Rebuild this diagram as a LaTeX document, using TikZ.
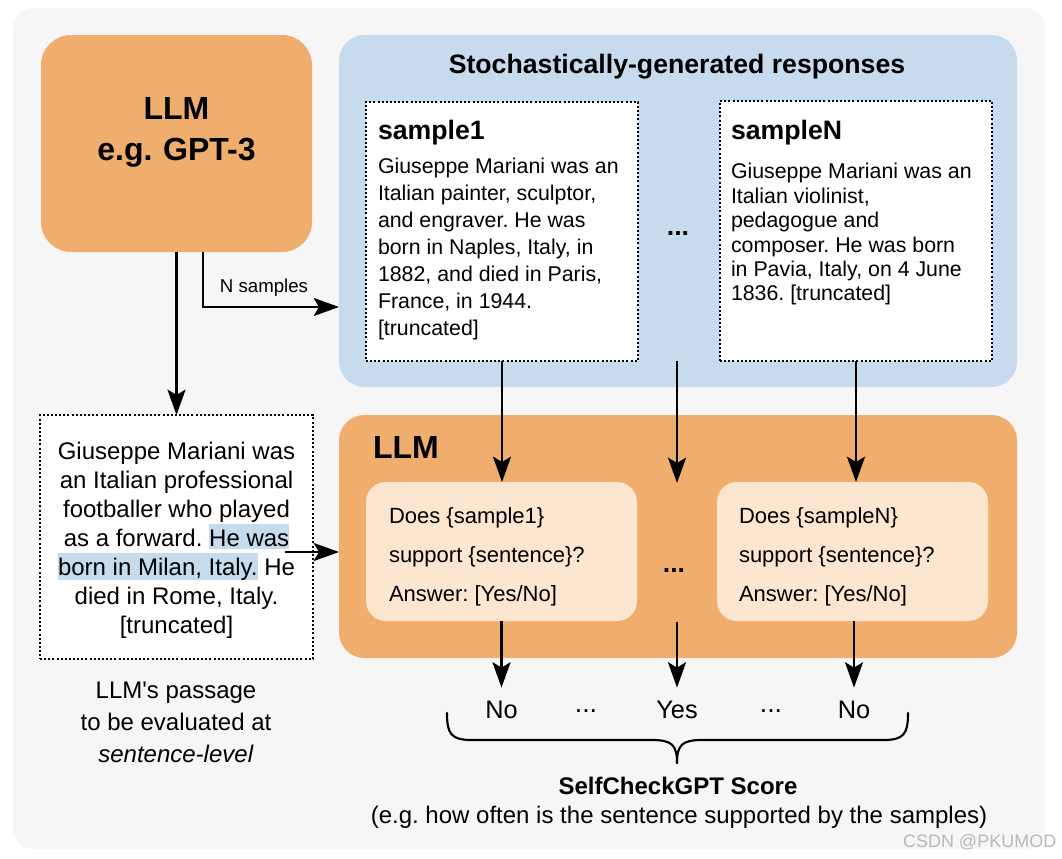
\documentclass[tikz,border=0pt]{standalone}
\usepackage{fontspec}
\setmainfont{Liberation Sans}
\usetikzlibrary{arrows.meta,fit}
\definecolor{bggray}{RGB}{246,246,246}
\definecolor{llmorange}{RGB}{240,174,110}
\definecolor{qorange}{RGB}{252,230,207}
\definecolor{respblue}{RGB}{198,220,238}
\definecolor{wmgray}{RGB}{185,185,185}
\newcommand{\hlbox}[1]{{\setlength{\fboxsep}{0pt}\colorbox{respblue}{\rule[-0.12em]{0pt}{1.05em}#1}}}
\frenchspacing
\begin{document}
\begin{tikzpicture}[x=0.75pt,y=-0.75pt,
  every node/.style={inner sep=0pt, outer sep=0pt},
  bigorange/.style={fill=llmorange, rounded corners=22.5pt},
  panel/.style={rounded corners=19pt},
  dotbox/.style={draw=black, fill=white, line width=1.9pt, dash pattern=on 1.5pt off 1.6pt},
  qbox/.style={fill=qorange, rounded corners=15pt},
  arr/.style={line width=1.8pt, -{Stealth[length=19pt,width=13.5pt,inset=4pt]}},
  samplehead/.style={font=\bfseries\fontsize{20}{24}\selectfont, anchor=base west},
  qtext/.style={font=\fontsize{16.5}{29.25}\selectfont, align=left, anchor=north west},
  answer/.style={font=\fontsize{19}{23}\selectfont, anchor=base, inner ysep=9.75pt},
  dots/.style={font=\fontsize{20}{24}\selectfont, anchor=base}
]
\useasboundingbox (0,0) rectangle (1062,858);
\fill[bggray, rounded corners=15pt] (13,8) rectangle (1045,849);

% top LLM
\node[fit={(41,35) (312,252)}, bigorange, align=center,
      font=\bfseries\fontsize{24}{30.75}\selectfont] (llm) {LLM\\e.g. GPT-3};

% responses panel
\node[fit={(339,35) (1017,387)}, panel, fill=respblue] (resp) {};
\node[font=\bfseries\fontsize{20}{24}\selectfont] (resptitle) at (677,67) {Stochastically-generated responses};
\node[fit={(366,102) (638,361)}, dotbox] (s1) {};
\node[fit={(720,101) (992,361)}, dotbox] (sN) {};
\node[samplehead] (s1head) at (378,139) {sample1};
\node[samplehead] (sNhead) at (731,139) {sampleN};
\node[font=\fontsize{16}{20.2}\selectfont, align=left, anchor=north west] (s1body) at (378,158.5)
  {Giuseppe Mariani was an\\Italian painter, sculptor,\\and engraver. He was\\born in Naples, Italy, in\\1882, and died in Paris,\\France, in 1944.\\{[truncated]}};
\node[font=\fontsize{16}{18.3}\selectfont, align=left, anchor=north west] (sNbody) at (731,163.5)
  {Giuseppe Mariani was an\\Italian violinist,\\pedagogue and\\composer. He was born\\in Pavia, Italy, on 4 June\\1836. [truncated]};
\node[dots, font=\bfseries\fontsize{20}{24}\selectfont] (dtop) at (678,235) {...};

% passage
\node[fit={(40,415) (313,659)}, dotbox] (passage) {};
\node[font=\fontsize{18}{21.75}\selectfont, align=center] (ptext) at (176.5,540)
  {Giuseppe Mariani was\\an Italian professional\\footballer who played\\as a forward. \hlbox{He was}\\\hlbox{born in Milan, Italy.} He\\died in Rome, Italy.\\{[truncated]}};
\node[font=\fontsize{18}{24}\selectfont, align=center] (pcap) at (176,722)
  {LLM\textquotesingle s passage\\to be evaluated at\\\textit{sentence-level}};

% lower LLM
\node[fit={(339,415) (1017,658)}, panel, fill=llmorange] (llmbox) {};
\node[font=\bfseries\fontsize{24}{28}\selectfont] (llmlabel) at (406,447) {LLM};
\node[fit={(366,482) (637,621)}, qbox] (q1) {};
\node[fit={(717,482) (988,621)}, qbox] (qN) {};
\node[qtext] (q1text) at (389,507.5) {Does \{sample1\}\\support \{sentence\}?\\Answer: [Yes/No]};
\node[qtext] (qNtext) at (739,507.5) {Does \{sampleN\}\\support \{sentence\}?\\Answer: [Yes/No]};
\node[dots, font=\bfseries\fontsize{20}{24}\selectfont] (dmid) at (674,572) {...};

% answers
\node[answer] (no1) at (501.5,718) {No};
\node[answer] (yes) at (677,718) {Yes};
\node[answer] (no2) at (854,718) {No};
\node[dots] (d1) at (586,712) {...};
\node[dots] (d2) at (771,712) {...};

% brace
\draw[line width=1.6pt, line cap=round]
  (447,713) .. controls (447,734) and (451,740) .. (472,740) -- (652,740)
  .. controls (672,740) and (677,745) .. (677,763);
\draw[line width=1.6pt, line cap=round]
  (908,713) .. controls (908,734) and (904,740) .. (883,740) -- (702,740)
  .. controls (682,740) and (677,745) .. (677,763);
\node[font=\bfseries\fontsize{18}{22}\selectfont] (score) at (678,786) {SelfCheckGPT Score};
\node[font=\fontsize{18}{22}\selectfont] (scoredesc) at (679,817) {(e.g. how often is the sentence supported by the samples)};

% watermark
\node[font=\fontsize{13.5}{16}\selectfont, text=wmgray, anchor=base west] (wm) at (903,847) {CSDN @PKUMOD};

% connectors
\draw[arr] (llm.south) -- (passage.north);
\coordinate (nsturn) at (203,307);
\draw[arr] (llm.south -| nsturn) |- (resp.west |- nsturn);
\node[font=\fontsize{14}{16}\selectfont] (nslabel) at (264,288) {N samples};
\coordinate (pstart) at (285,552);
\draw[arr] (pstart) -- (pstart -| llmbox.west);
\draw[arr] (s1.south) -- (s1.south |- q1.north);
\coordinate (mtop) at (677,361);
\coordinate (mtip) at (677,483);
\draw[arr] (mtop) -- (mtip);
\draw[arr] (sN.south) -- (sN.south |- qN.north);
\draw[arr] (q1.south) -- (no1.north);
\coordinate (mbot) at (677,622);
\draw[arr] (mbot) -- (yes.north);
\draw[arr] (qN.south -| no2.north) -- (no2.north);
\end{tikzpicture}
\end{document}
